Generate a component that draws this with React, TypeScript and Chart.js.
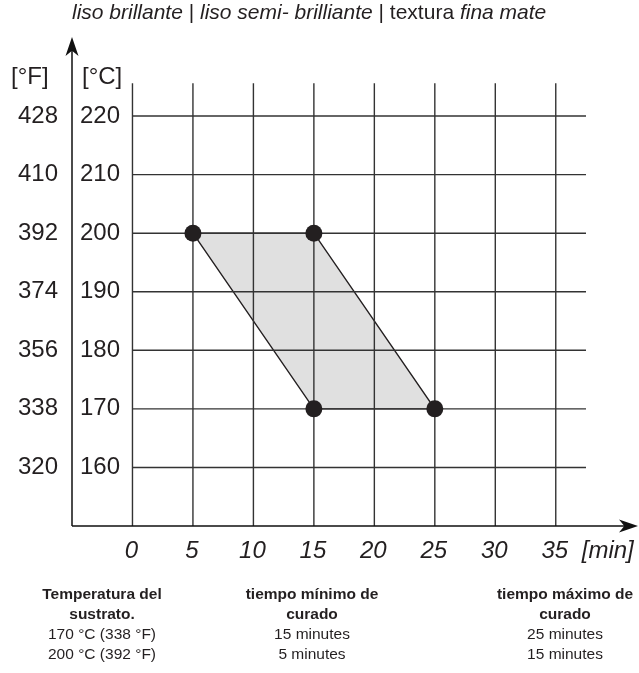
import React, { useEffect, useRef } from "react";
import { Chart, registerables } from "chart.js";

Chart.register(...registerables);

// ---- data ----
const tempC = [160, 170, 180, 190, 200, 210, 220];
const tempF = [320, 338, 356, 374, 392, 410, 428];
const minutes = [0, 5, 10, 15, 20, 25, 30, 35];
const zoneTime = [5, 15, 25, 15];
const zoneTemp = [200, 200, 170, 170];

const colHeads = ["Temperatura del\nsustrato.", "tiempo mínimo de\ncurado", "tiempo máximo de\ncurado"];
const colRows = [
  ["170 °C (338 °F)", "200 °C (392 °F)"],
  ["15 minutes", "5 minutes"],
  ["25 minutes", "15 minutes"],
];

const FONT = '"Liberation Sans", Arial, sans-serif';

const X_MIN = -5;
const X_MAX = 41.8;
const Y_MIN = 150;
const Y_MAX = 233.5;
const GRID_TOP = 225.6;
const GRID_RIGHT = 37.5;

function arrow(ctx: CanvasRenderingContext2D, tipX: number, tipY: number, dir: "up" | "right") {
  const len = 19;
  const half = 6.5;
  ctx.beginPath();
  if (dir === "up") {
    ctx.moveTo(tipX, tipY);
    ctx.lineTo(tipX - half, tipY + len);
    ctx.lineTo(tipX, tipY + len * 0.72);
    ctx.lineTo(tipX + half, tipY + len);
  } else {
    ctx.moveTo(tipX, tipY);
    ctx.lineTo(tipX - len, tipY - half);
    ctx.lineTo(tipX - len * 0.72, tipY);
    ctx.lineTo(tipX - len, tipY + half);
  }
  ctx.closePath();
  ctx.fill();
}

const customPlugin = {
  id: "customGrid",
  afterDatasetDraw(chart: any, args: any) {
    if (args.index !== 1) return;
    const { ctx } = chart;
    const xs = chart.scales.x;
    const ys = chart.scales.y;
    ctx.save();
    ctx.strokeStyle = "#333";
    ctx.lineWidth = 1.4;
    const yTop = ys.getPixelForValue(GRID_TOP);
    const yBot = ys.getPixelForValue(Y_MIN);
    minutes.forEach((m) => {
      const px = xs.getPixelForValue(m);
      ctx.beginPath();
      ctx.moveTo(px, yTop);
      ctx.lineTo(px, yBot);
      ctx.stroke();
    });
    const xL = xs.getPixelForValue(0);
    const xR = xs.getPixelForValue(GRID_RIGHT);
    tempC.forEach((c) => {
      const py = ys.getPixelForValue(c);
      ctx.beginPath();
      ctx.moveTo(xL, py);
      ctx.lineTo(xR, py);
      ctx.stroke();
    });
    ctx.restore();
  },
  afterDraw(chart: any) {
    const { ctx } = chart;
    const xs = chart.scales.x;
    const ys = chart.scales.y;
    const ax = xs.getPixelForValue(X_MIN);
    const ay = ys.getPixelForValue(Y_MIN);
    const topY = ys.getPixelForValue(Y_MAX);
    const rightX = xs.getPixelForValue(X_MAX);
    ctx.save();
    // axes
    ctx.strokeStyle = "#111";
    ctx.fillStyle = "#111";
    ctx.lineWidth = 1.5;
    ctx.beginPath();
    ctx.moveTo(ax, ay);
    ctx.lineTo(ax, topY + 8);
    ctx.moveTo(ax, ay);
    ctx.lineTo(rightX - 8, ay);
    ctx.stroke();
    arrow(ctx, ax, topY, "up");
    arrow(ctx, rightX, ay, "right");

    // y labels
    ctx.fillStyle = "#231f20";
    ctx.font = `24px ${FONT}`;
    ctx.textBaseline = "middle";
    tempC.forEach((c, i) => {
      const py = ys.getPixelForValue(c);
      ctx.textAlign = "right";
      ctx.fillText(String(tempF[i]), ax - 14, py);
      ctx.textAlign = "left";
      ctx.fillText(String(c), ax + 8, py);
    });
    ctx.textAlign = "left";
    ctx.fillText("[°F]", ax - 61, topY + 40);
    ctx.fillText("[°C]", ax + 10, topY + 40);

    // x labels
    ctx.font = `italic 24px ${FONT}`;
    ctx.textAlign = "center";
    minutes.forEach((m) => {
      ctx.fillText(String(m), xs.getPixelForValue(m) - 1, ay + 25);
    });
    ctx.textAlign = "left";
    ctx.fillText("[min]", xs.getPixelForValue(35) + 26, ay + 25);
    ctx.restore();
  },
};

export default function App() {
  const ref = useRef<HTMLCanvasElement>(null);
  useEffect(() => {
    document.body.style.margin = "0";
    const canvas = ref.current!;
    const pts = zoneTime.map((t, i) => ({ x: t, y: zoneTemp[i] }));
    const chart = new Chart(canvas, {
      type: "scatter",
      data: {
        datasets: [
          {
            data: pts,
            backgroundColor: "#231f20",
            borderColor: "#231f20",
            pointRadius: 8.5,
            pointBorderWidth: 0,
            showLine: false,
          },
          {
            data: [...pts, pts[0]],
            showLine: true,
            fill: "shape",
            backgroundColor: "#e0e0e0",
            borderColor: "#231f20",
            borderWidth: 1.4,
            pointRadius: 0,
            tension: 0,
          } as any,
        ],
      },
      options: {
        responsive: false,
        animation: false,
        layout: { autoPadding: false, padding: { left: 72, right: 1, top: 37, bottom: 147 } },
        plugins: { legend: { display: false }, title: { display: false }, tooltip: { enabled: false } },
        scales: {
          x: { type: "linear", min: X_MIN, max: X_MAX, display: false },
          y: { type: "linear", min: Y_MIN, max: Y_MAX, display: false },
        },
      } as any,
      plugins: [customPlugin],
    });
    return () => chart.destroy();
  }, []);

  const centers = [102, 312, 565];
  return (
    <div style={{ position: "relative", width: 639, height: 673, background: "#fff", fontFamily: FONT, color: "#231f20" }}>
      <canvas ref={ref} width={639} height={673} style={{ display: "block", position: "absolute", left: 0, top: 0 }} />
      <div style={{ position: "absolute", left: 72, top: 0, fontSize: 21, lineHeight: "24px", whiteSpace: "nowrap" }}>
        <i>liso brillante</i> | <i>liso semi- brilliante</i> | textura <i>fina mate</i>
      </div>
      {centers.map((c, i) => (
        <div
          key={i}
          style={{
            position: "absolute",
            left: c - 110,
            width: 220,
            top: 584,
            textAlign: "center",
            fontSize: 15.5,
            lineHeight: "20px",
          }}
        >
          {colHeads[i].split("\n").map((l, j) => (
            <div key={"h" + j} style={{ fontWeight: "bold" }}>{l}</div>
          ))}
          {colRows[i].map((l, j) => (
            <div key={"r" + j}>{l}</div>
          ))}
        </div>
      ))}
    </div>
  );
}
